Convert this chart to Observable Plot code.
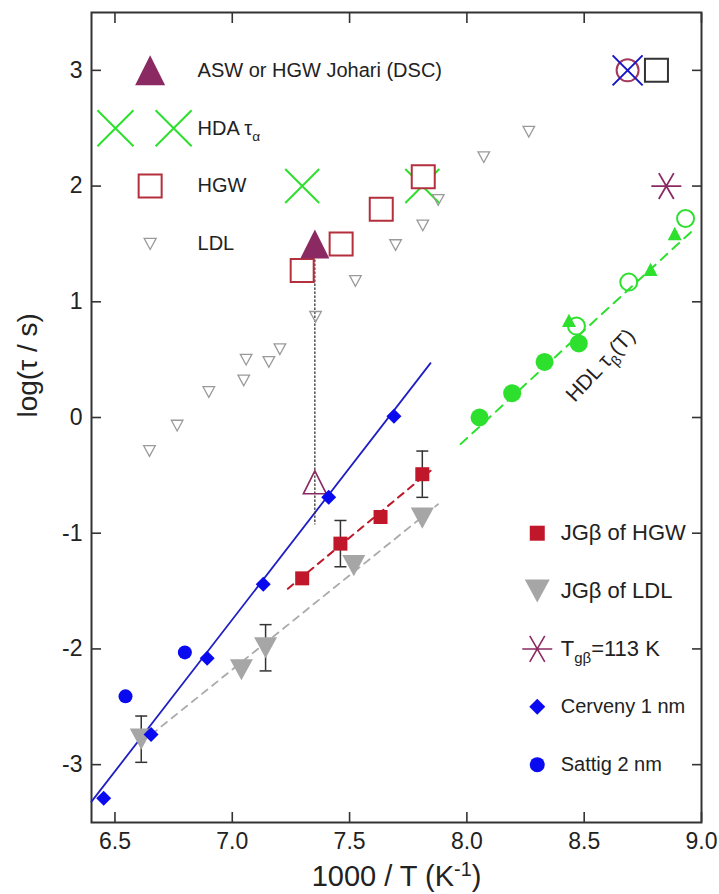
<!DOCTYPE html>
<html>
<head>
<meta charset="utf-8">
<script src="https://cdn.jsdelivr.net/npm/d3@7"></script>
<script src="https://cdn.jsdelivr.net/npm/@observablehq/plot@0.6"></script>
<style>
  html, body { margin: 0; padding: 0; background: #fff; }
  #chart { width: 719px; height: 894px; }
</style>
</head>
<body>
<div id="chart"></div>
<script>
// Relaxation times log(tau / s) against 1000 / T for water phases.

// Axis ticks
const xTicks = [6.5, 7.0, 7.5, 8.0, 8.5, 9.0];
const yTicks = [-3, -2, -1, 0, 1, 2, 3];

// LDL (small open triangles)
const ldlX = [6.647, 6.765, 6.900, 7.049, 7.059, 7.156, 7.203, 7.355, 7.525, 7.696, 7.812, 7.878, 8.072, 8.264];
const ldlY = [-0.29, -0.07, 0.22, 0.32, 0.50, 0.48, 0.59, 0.87, 1.18, 1.49, 1.66, 1.88, 2.25, 2.47];

// HGW (open squares)
const hgwX = [7.298, 7.464, 7.635, 7.814];
const hgwY = [1.27, 1.50, 1.80, 2.08];

// HDA tau_alpha
const hdaX = [7.298, 7.810];
const hdaY = [2.0, 2.0];

// ASW or HGW Johari (DSC), its open counterpart and the dotted drop between them
const aswX = [7.352];
const aswY = [1.50];
const aswOpenY = [-0.56];
const aswDropY = [1.50, -0.92];

// JG beta of HGW, with error bars and dashed fit
const jgHgwX = [7.298, 7.461, 7.632, 7.810];
const jgHgwY = [-1.39, -1.09, -0.86, -0.49];
const jgHgwErr = [0, 0.2, 0, 0.2];
const jgHgwFitX = [7.237, 7.845];
const jgHgwFitY = [-1.48, -0.46];

// JG beta of LDL, with error bars and dashed fit
const jgLdlX = [6.612, 7.039, 7.142, 7.518, 7.810];
const jgLdlY = [-2.78, -2.18, -1.99, -1.28, -0.87];
const jgLdlErr = [0.2, 0, 0.2, 0, 0];
const jgLdlFitX = [6.655, 7.877];
const jgLdlFitY = [-2.74, -0.75];

// Cerveny 1 nm, with linear fit
const cervenyX = [6.452, 6.654, 6.893, 7.132, 7.411, 7.689];
const cervenyY = [-3.29, -2.74, -2.08, -1.44, -0.69, 0.01];
const cervenyFitX = [6.4, 7.845];
const cervenyFitY = [-3.32, 0.47];

// Sattig 2 nm
const sattigX = [6.545, 6.798];
const sattigY = [-2.41, -2.03];

// HDL tau_beta(T)
const hdlFilledX = [8.054, 8.193, 8.331, 8.477];
const hdlFilledY = [0.00, 0.21, 0.48, 0.64];
const hdlOpenX = [8.467, 8.690, 8.932];
const hdlOpenY = [0.79, 1.17, 1.72];
const hdlTriX = [8.435, 8.783, 8.886];
const hdlTriY = [0.84, 1.28, 1.59];
const hdlFitX = [7.973, 8.97];
const hdlFitY = [-0.23, 1.63];

// T_gβ = 113 K
const tgbX = [8.85];
const tgbY = [2.0];

// Markers at log tau = 3
const crossCircleX = [8.685];
const crossCircleY = [3.0];
const squareX = [8.808];
const squareY = [3.0];

// Legend texts and rows (rows in log tau units)
const legendTopLabels = ["ASW or HGW Johari (DSC)", "HDA τ_{α}", "HGW", "LDL"];
const legendTopRows = [3.0, 2.5, 2.0, 1.5];
const legendBottomLabels = ["JGβ of HGW", "JGβ of LDL", "T_{gβ}=113 K", "Cerveny 1 nm", "Sattig 2 nm"];
const legendBottomRows = [-1.0, -1.5, -2.0, -2.5, -3.0];
const hdlLabel = "HDL τ_{β}(T)";
const xTitle = "1000 / T (K^{-1})";
const yTitle = "log(τ / s)";

// ---- layout (in axis units) ----
const legendTopSymbolX = 6.65, legendTopLabelX = 6.852, legendHdaX = [6.502, 6.75];
const legendBottomSymbolX = 8.30, legendBottomLabelX = 8.40;
const hdlLabelPos = {x: 8.57, y: 0.45};

// ---- colours ----
const purple = "#8b2a62";
const green = "#2ee02e";
const red = "#c0182a";
const redOpen = "#b3303c";
const grey = "#a6a6a6";
const greySmall = "#9a9a9a";
const blue = "#0a0af0";
const blueLine = "#1f1fc4";
const ink = "#333";

const pts = (xs, ys) => xs.map((x, i) => ({x, y: ys[i]}));

// ---- symbols: size = r^2 * PI, r = half-width ----
const half = (s) => Math.sqrt(s / Math.PI);
const tri = (dir, k) => ({draw(c, s) {
  const r = half(s);
  c.moveTo(0, -dir * k * r); c.lineTo(r, dir * k * r); c.lineTo(-r, dir * k * r); c.closePath();
}});
const sym = {
  triUp: tri(1, 1),
  triUpSmall: tri(1, 0.95),
  triDown: tri(-1, 0.92),
  square: {draw(c, s) { const r = half(s); c.moveTo(-r, -r); c.lineTo(r, -r); c.lineTo(r, r); c.lineTo(-r, r); c.closePath(); }},
  diamond: {draw(c, s) { const r = half(s); c.moveTo(0, -r); c.lineTo(r, 0); c.lineTo(0, r); c.lineTo(-r, 0); c.closePath(); }},
  circle: {draw(c, s) { const r = half(s); c.moveTo(r, 0); c.arc(0, 0, r, 0, 2 * Math.PI); c.closePath(); }},
  cross: {draw(c, s) { const r = half(s); c.moveTo(-r, -r); c.lineTo(r, r); c.moveTo(-r, r); c.lineTo(r, -r); }},
  star6: {draw(c, s) {
    const r = half(s), a = 0.5 * r, b = 0.866 * r;
    c.moveTo(-r, 0); c.lineTo(r, 0);
    c.moveTo(-a, -b); c.lineTo(a, b);
    c.moveTo(a, -b); c.lineTo(-a, b);
  }},
  cap: {draw(c, s) { const r = half(s); c.moveTo(-r, 0); c.lineTo(r, 0); }}
};

const errBars = (xs, ys, es) => xs.map((x, i) => ({x, y: ys[i], e: es[i]})).filter(d => d.e > 0);
const caps = (bars) => bars.flatMap(d => [{x: d.x, y: d.y - d.e}, {x: d.x, y: d.y + d.e}]);
const jgHgwBars = errBars(jgHgwX, jgHgwY, jgHgwErr);
const jgLdlBars = errBars(jgLdlX, jgLdlY, jgLdlErr);

const font = "'Liberation Sans', Arial, Helvetica, sans-serif";

const chart = Plot.plot({
  width: 719,
  height: 894,
  marginLeft: 91,
  marginRight: 18,
  marginTop: 12,
  marginBottom: 72,
  x: {domain: [6.4, 9.0]},
  y: {domain: [-3.5, 3.5]},
  style: {fontFamily: font, fontSize: "20px", color: "#222", background: "#fff", overflow: "visible"},
  marks: [
    // frame and inward ticks on all four sides
    Plot.frame({stroke: ink, strokeWidth: 2}),
    Plot.axisX({anchor: "bottom", ticks: xTicks, tickSize: -10, fill: "none", stroke: ink, strokeWidth: 1.6, label: null}),
    Plot.axisX({anchor: "top", ticks: xTicks, tickSize: -10, fill: "none", stroke: ink, strokeWidth: 1.6, label: null}),
    Plot.axisY({anchor: "left", ticks: yTicks, tickSize: -10, fill: "none", stroke: ink, strokeWidth: 1.6, label: null}),
    Plot.axisY({anchor: "right", ticks: yTicks, tickSize: -10, fill: "none", stroke: ink, strokeWidth: 1.6, label: null}),
    // tick labels
    Plot.axisX({anchor: "bottom", ticks: xTicks, tickSize: 0, tickPadding: 10, tickFormat: d3.format(".1f"), fontSize: 23, fill: "#222", label: null}),
    Plot.axisY({anchor: "left", ticks: yTicks, tickSize: 0, tickPadding: 9, tickFormat: d => String(d), fontSize: 23, fill: "#222", label: null}),
    // axis titles
    Plot.text([xTitle], {frameAnchor: "bottom", dy: 63, text: d => d, fontSize: 29, fill: "#222"}),
    Plot.text([yTitle], {frameAnchor: "left", dx: -63, rotate: -90, text: d => d, fontSize: 28, fill: "#222"}),

    // fit lines
    Plot.line(pts(cervenyFitX, cervenyFitY), {x: "x", y: "y", stroke: blueLine, strokeWidth: 1.8}),
    Plot.line(pts(jgHgwFitX, jgHgwFitY), {x: "x", y: "y", stroke: red, strokeWidth: 2, strokeDasharray: "7,6"}),
    Plot.line(pts(jgLdlFitX, jgLdlFitY), {x: "x", y: "y", stroke: "#aaa", strokeWidth: 1.8, strokeDasharray: "7,6"}),
    Plot.line(pts(hdlFitX, hdlFitY), {x: "x", y: "y", stroke: green, strokeWidth: 2, strokeDasharray: "9,7"}),
    Plot.line(aswDropY.map(y => ({x: aswX[0], y})), {x: "x", y: "y", stroke: ink, strokeWidth: 1.3, strokeDasharray: "1.5,2.5"}),

    // HDA tau_alpha (drawn beneath the HGW squares)
    Plot.dot(pts(hdaX, hdaY), {x: "x", y: "y", symbol: sym.cross, r: 17, stroke: green, strokeWidth: 2}),
    // LDL
    Plot.dot(pts(ldlX, ldlY), {x: "x", y: "y", symbol: sym.triDown, r: 5.8, stroke: greySmall, strokeWidth: 1.3, fill: "none"}),
    // HGW
    Plot.dot(pts(hgwX, hgwY), {x: "x", y: "y", symbol: sym.square, r: 11.5, stroke: redOpen, strokeWidth: 2, fill: "#fff"}),
    // ASW / Johari
    Plot.dot(pts(aswX, aswY), {x: "x", y: "y", symbol: sym.triUp, r: 14.5, fill: purple}),
    Plot.dot(pts(aswX, aswOpenY), {x: "x", y: "y", symbol: sym.triUp, r: 11.5, stroke: purple, strokeWidth: 1.6, fill: "none"}),

    // error bars
    Plot.ruleX(jgHgwBars, {x: "x", y1: d => d.y - d.e, y2: d => d.y + d.e, stroke: ink, strokeWidth: 1.5}),
    Plot.ruleX(jgLdlBars, {x: "x", y1: d => d.y - d.e, y2: d => d.y + d.e, stroke: ink, strokeWidth: 1.5}),
    Plot.dot(caps(jgHgwBars), {x: "x", y: "y", symbol: sym.cap, r: 6, stroke: ink, strokeWidth: 1.5}),
    Plot.dot(caps(jgLdlBars), {x: "x", y: "y", symbol: sym.cap, r: 6, stroke: ink, strokeWidth: 1.5}),

    // JG beta points
    Plot.dot(pts(jgLdlX, jgLdlY), {x: "x", y: "y", symbol: sym.triDown, r: 11.5, fill: grey}),
    Plot.dot(pts(jgHgwX, jgHgwY), {x: "x", y: "y", symbol: sym.square, r: 7, fill: red}),
    // confined water
    Plot.dot(pts(cervenyX, cervenyY), {x: "x", y: "y", symbol: sym.diamond, r: 7.5, fill: blue}),
    Plot.dot(pts(sattigX, sattigY), {x: "x", y: "y", symbol: sym.circle, r: 7, fill: blue}),

    // HDL
    Plot.dot(pts(hdlTriX, hdlTriY), {x: "x", y: "y", symbol: sym.triUpSmall, r: 7, fill: green}),
    Plot.dot(pts(hdlFilledX, hdlFilledY), {x: "x", y: "y", symbol: sym.circle, r: 9, fill: green}),
    Plot.dot(pts(hdlOpenX, hdlOpenY), {x: "x", y: "y", symbol: sym.circle, r: 8.5, stroke: green, strokeWidth: 2, fill: "none"}),
    Plot.text([hdlLabel], {x: () => hdlLabelPos.x, y: () => hdlLabelPos.y, text: d => d, rotate: -47, fontSize: 21, fill: "#222"}),

    // T_gβ and the markers at log tau = 3
    Plot.dot(pts(tgbX, tgbY), {x: "x", y: "y", symbol: sym.star6, r: 15, stroke: purple, strokeWidth: 1.8}),
    Plot.dot(pts(crossCircleX, crossCircleY), {x: "x", y: "y", symbol: sym.circle, r: 11, stroke: "#a33a5e", strokeWidth: 2, fill: "none"}),
    Plot.dot(pts(crossCircleX, crossCircleY), {x: "x", y: "y", symbol: sym.cross, r: 15, stroke: "#1616c8", strokeWidth: 2}),
    Plot.dot(pts(squareX, squareY), {x: "x", y: "y", symbol: sym.square, r: 11.5, stroke: ink, strokeWidth: 2, fill: "none"}),

    // upper-left legend
    Plot.dot([legendTopRows[0]], {x: () => legendTopSymbolX, y: d => d, symbol: sym.triUp, r: 15, fill: purple}),
    Plot.dot(legendHdaX, {x: d => d, y: () => legendTopRows[1], symbol: sym.cross, r: 18, stroke: green, strokeWidth: 2}),
    Plot.dot([legendTopRows[2]], {x: () => legendTopSymbolX, y: d => d, symbol: sym.square, r: 11.5, stroke: redOpen, strokeWidth: 2, fill: "#fff"}),
    Plot.dot([legendTopRows[3]], {x: () => legendTopSymbolX, y: d => d, symbol: sym.triDown, r: 6, stroke: greySmall, strokeWidth: 1.3, fill: "none"}),
    Plot.text(legendTopLabels, {x: () => legendTopLabelX, y: (d, i) => legendTopRows[i], text: d => d, textAnchor: "start", fontSize: 20, fill: "#222"}),

    // lower-right legend
    Plot.dot([legendBottomRows[0]], {x: () => legendBottomSymbolX, y: d => d, symbol: sym.square, r: 7.5, fill: red}),
    Plot.dot([legendBottomRows[1]], {x: () => legendBottomSymbolX, y: d => d, symbol: sym.triDown, r: 12.5, fill: grey}),
    Plot.dot([legendBottomRows[2]], {x: () => legendBottomSymbolX, y: d => d, symbol: sym.star6, r: 15, stroke: purple, strokeWidth: 1.6}),
    Plot.dot([legendBottomRows[3]], {x: () => legendBottomSymbolX, y: d => d, symbol: sym.diamond, r: 8, fill: blue}),
    Plot.dot([legendBottomRows[4]], {x: () => legendBottomSymbolX, y: d => d, symbol: sym.circle, r: 7.5, fill: blue}),
    Plot.text(legendBottomLabels.slice(0, 3), {x: () => legendBottomLabelX, y: (d, i) => legendBottomRows[i], text: d => d, textAnchor: "start", fontSize: 22, fill: "#222"}),
    Plot.text(legendBottomLabels.slice(3), {x: () => legendBottomLabelX, y: (d, i) => legendBottomRows[i + 3], text: d => d, textAnchor: "start", fontSize: 20, fill: "#222"})
  ]
});

document.getElementById("chart").appendChild(chart);

// Turn _{...} and ^{...} into sub- and superscript tspans.
function applyRichText(root) {
  root.querySelectorAll("text").forEach(node => {
    const src = node.textContent;
    if (!/[_^]\{/.test(src)) return;
    const fs = parseFloat(getComputedStyle(node).fontSize) || 20;
    while (node.firstChild) node.removeChild(node.firstChild);
    const re = /([_^])\{([^}]*)\}/g;
    let last = 0, shift = 0, m;
    const add = (txt, dy, small) => {
      const ts = document.createElementNS("http://www.w3.org/2000/svg", "tspan");
      ts.textContent = txt;
      if (dy) ts.setAttribute("dy", dy.toFixed(2));
      if (small) ts.setAttribute("font-size", (fs * 0.68).toFixed(1));
      node.appendChild(ts);
    };
    while ((m = re.exec(src))) {
      if (m.index > last) { add(src.slice(last, m.index), -shift, false); shift = 0; }
      const s = m[1] === "_" ? 0.3 * fs : -0.33 * fs;
      add(m[2], s - shift, true);
      shift = s;
      last = re.lastIndex;
    }
    if (last < src.length) add(src.slice(last), -shift, false);
  });
}
applyRichText(chart);
</script>
</body>
</html>
